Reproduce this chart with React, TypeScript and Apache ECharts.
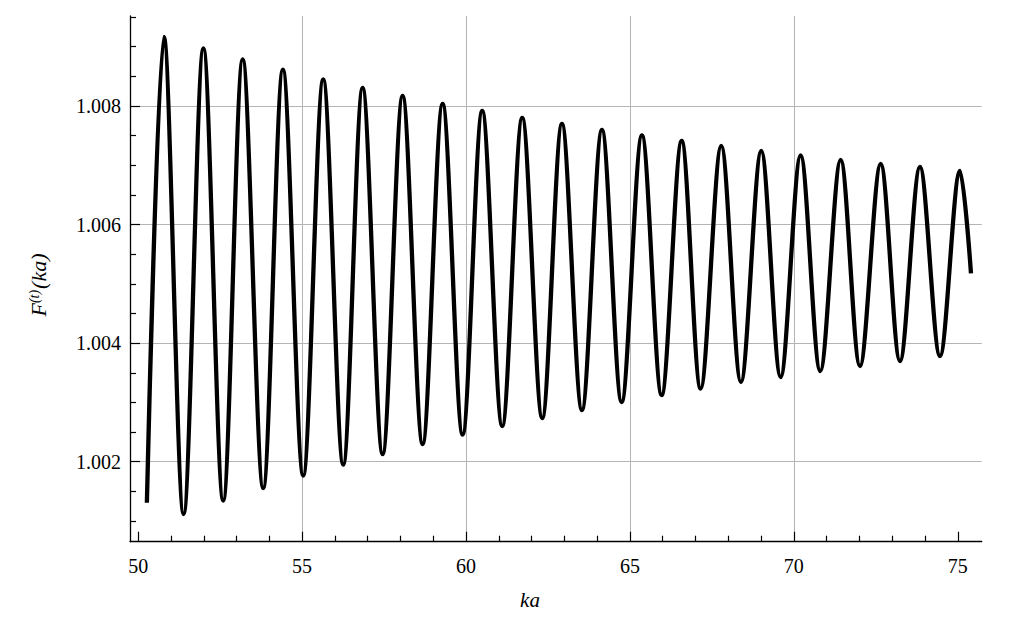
import React, { useEffect, useRef } from "react";
import * as echarts from "echarts";

// Curve: start point, alternating peaks and troughs, end point
const startPoint = [50.265, 1.001308];
const endPoint = [75.403, 1.005178];
const peakKa = [50.784, 51.989, 53.188, 54.414, 55.644, 56.846, 58.066, 59.286, 60.494, 61.715, 62.926, 64.146, 65.366, 66.577, 67.785, 69.005, 70.207, 71.428, 72.648, 73.847, 75.067];
const peakF = [1.009164, 1.00897, 1.008785, 1.008613, 1.008447, 1.008304, 1.008169, 1.008034, 1.007916, 1.007798, 1.007697, 1.007596, 1.007503, 1.00741, 1.007326, 1.007241, 1.007165, 1.007089, 1.007022, 1.006971, 1.006904];
const troughKa = [51.385, 52.593, 53.813, 55.034, 56.254, 57.456, 58.676, 59.896, 61.104, 62.325, 63.536, 64.747, 65.967, 67.157, 68.386, 69.597, 70.805, 72.017, 73.237, 74.457];
const troughF = [1.001118, 1.001345, 1.001556, 1.001767, 1.001953, 1.00213, 1.002299, 1.002459, 1.002602, 1.002737, 1.002872, 1.003007, 1.003125, 1.003235, 1.003344, 1.003429, 1.00353, 1.003614, 1.003699, 1.003783];

// Axis ticks
const xMajorTicks = [50, 55, 60, 65, 70, 75];
const xMinorTicks = [51, 52, 53, 54, 56, 57, 58, 59, 61, 62, 63, 64, 66, 67, 68, 69, 71, 72, 73, 74];
const yMajorTicks = [1.002, 1.004, 1.006, 1.008];
const yMinorTicks = [1.001, 1.0015, 1.0025, 1.003, 1.0035, 1.0045, 1.005, 1.0055, 1.0065, 1.007, 1.0075, 1.0085, 1.009, 1.0095];
const xRange = [49.75, 75.73];
const yRange = [1.000651, 1.009518];

const SERIF = "Liberation Serif";

export default function App() {
  const ref = useRef<HTMLDivElement>(null);

  useEffect(() => {
    if (!ref.current) return;
    const chart = echarts.init(ref.current, null, { renderer: "svg" });

    const curve: number[][] = [startPoint];
    for (let i = 0; i < peakKa.length; i++) {
      curve.push([peakKa[i], peakF[i]]);
      if (i < troughKa.length) curve.push([troughKa[i], troughF[i]]);
    }
    curve.push(endPoint);

    const gridColor = "#b4b4b4";

    chart.setOption({
      animation: false,
      backgroundColor: "#ffffff",
      textStyle: { fontFamily: SERIF },
      grid: {
        left: 130,
        top: 16,
        right: 28.3,
        bottom: 90.3,
        containLabel: false,
        outerBoundsMode: "none",
      },
      xAxis: [
        {
          type: "value",
          min: xRange[0],
          max: xRange[1],
          position: "bottom",
          axisLine: { show: true, lineStyle: { color: "#000", width: 1.3 } },
          axisTick: {
            show: true,
            inside: true,
            length: 10,
            customValues: xMajorTicks,
            lineStyle: { color: "#000", width: 1.2 },
          },
          axisLabel: {
            customValues: xMajorTicks,
            fontFamily: SERIF,
            fontSize: 20,
            color: "#000",
            margin: 14,
          },
          splitLine: {
            show: true,
            lineStyle: {
              color: ["rgba(0,0,0,0)", gridColor, gridColor, gridColor, gridColor, "rgba(0,0,0,0)"],
              width: 1,
            },
          },
        },
        {
          type: "value",
          min: xRange[0],
          max: xRange[1],
          position: "bottom",
          axisLine: { show: false },
          axisTick: {
            show: true,
            inside: true,
            length: 6,
            customValues: xMinorTicks,
            lineStyle: { color: "#000", width: 1.2 },
          },
          axisLabel: { show: false },
          splitLine: { show: false },
        },
      ],
      yAxis: [
        {
          type: "value",
          min: yRange[0],
          max: yRange[1],
          position: "left",
          axisLine: { show: true, lineStyle: { color: "#000", width: 1.3 } },
          axisTick: {
            show: true,
            inside: true,
            length: 10,
            customValues: yMajorTicks,
            lineStyle: { color: "#000", width: 1.2 },
          },
          axisLabel: {
            customValues: yMajorTicks,
            formatter: (v: number) => v.toFixed(3),
            fontFamily: SERIF,
            fontSize: 20,
            color: "#000",
            margin: 9,
          },
          splitLine: { show: true, lineStyle: { color: gridColor, width: 1 } },
        },
        {
          type: "value",
          min: yRange[0],
          max: yRange[1],
          position: "left",
          axisLine: { show: false },
          axisTick: {
            show: true,
            inside: true,
            length: 6,
            customValues: yMinorTicks,
            lineStyle: { color: "#000", width: 1.2 },
          },
          axisLabel: { show: false },
          splitLine: { show: false },
        },
      ],
      graphic: [
        {
          type: "text",
          x: 530,
          y: 600,
          style: {
            text: "ka",
            fontFamily: SERIF,
            fontStyle: "italic",
            fontSize: 21,
            fill: "#000",
            align: "center",
            verticalAlign: "middle",
          },
        },
        {
          type: "text",
          x: 38,
          y: 285,
          rotation: Math.PI / 2,
          style: {
            text: "{i|F}{s|(t)}{i|(ka)}",
            align: "center",
            verticalAlign: "middle",
            fill: "#000",
            fontFamily: SERIF,
            rich: {
              i: { fontFamily: SERIF, fontStyle: "italic", fontSize: 22, fill: "#000" },
              s: { fontFamily: SERIF, fontStyle: "italic", fontSize: 14, fill: "#000", verticalAlign: "top", padding: [0, 1, 0, 0] },
            },
          },
        },
      ],
      series: [
        {
          type: "line",
          xAxisIndex: 0,
          yAxisIndex: 0,
          data: curve,
          smooth: 0.33,
          showSymbol: false,
          symbol: "none",
          lineStyle: { color: "#000", width: 4.3, cap: "butt", join: "round" },
          z: 5,
        },
      ],
    });

    return () => chart.dispose();
  }, []);

  return (
    <div
      ref={ref}
      style={{ position: "fixed", left: 0, top: 0, width: 1010, height: 632, background: "#fff" }}
    />
  );
}
